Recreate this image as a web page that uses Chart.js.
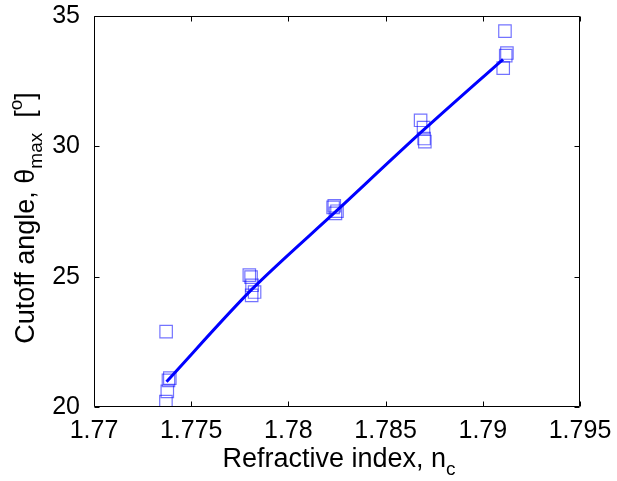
<!DOCTYPE html>
<html><head><meta charset="utf-8">
<script src="https://cdn.jsdelivr.net/npm/chart.js@4/dist/chart.umd.min.js"></script>
<style>html,body{margin:0;padding:0;background:#fff}canvas{display:block}</style>
</head><body>
<canvas id="c" width="617" height="481"></canvas>
<script>
// Measured samples (refractive index vs cutoff angle)
const pointX = [1.77371, 1.77390, 1.77383, 1.77377, 1.77370,
                1.77799, 1.77808, 1.77813, 1.77826, 1.77811,
                1.78236, 1.78250, 1.78242, 1.78230,
                1.78680, 1.78695, 1.78698, 1.78702,
                1.79114, 1.79124, 1.79118, 1.79105];
const pointY = [22.89, 21.11, 21.02, 20.60, 20.21,
                25.06, 24.98, 24.67, 24.41, 24.28,
                27.72, 27.51, 27.43, 27.66,
                31.00, 30.72, 30.30, 30.18,
                34.42, 33.58, 33.48, 33.00];
// Fitted curve
const fitX = [1.77373, 1.77813, 1.78250, 1.78687, 1.79104];
const fitY = [20.97, 24.52, 27.54, 30.57, 33.34];
// Axes
const xTicks = [1.77, 1.775, 1.78, 1.785, 1.79, 1.795];
const xTickLabels = ['1.77', '1.775', '1.78', '1.785', '1.79', '1.795'];
const yTicks = [20, 25, 30, 35];
const yTickLabels = ['20', '25', '30', '35'];
const xTitleParts = [['Refractive index, n', 'n'], ['c', 'sub']];
const yTitleParts = [['Cutoff angle, \u03B8', 'n'], ['max', 'sub'], ['  [', 'n'], ['o', 'sup'], [']', 'n']];

const FAM = "'Liberation Sans', Arial, Helvetica, sans-serif";

function drawRich(ctx, parts, size, subSize) {
  const fontFor = k => (k === 'n' ? size : subSize) + 'px ' + FAM;
  let total = 0;
  const widths = parts.map(([t, k]) => { ctx.font = fontFor(k); const w = ctx.measureText(t).width; total += w; return w; });
  let x = -total / 2;
  ctx.textBaseline = 'alphabetic';
  ctx.textAlign = 'left';
  parts.forEach(([t, k], i) => {
    ctx.font = fontFor(k);
    const dy = k === 'sub' ? 8 : (k === 'sup' ? -12 : 0);
    ctx.fillText(t, x, dy);
    x += widths[i];
  });
}

const framePlugin = {
  id: 'frame',
  afterDraw(chart) {
    const {ctx, chartArea: a, scales} = chart;
    ctx.save();
    ctx.strokeStyle = '#000';
    ctx.lineWidth = 1;
    const L = Math.round(a.left) + 0.5, R = Math.round(a.right) - 0.5;
    const T = Math.round(a.top) + 0.5, B = Math.round(a.bottom) - 0.5;
    ctx.beginPath();
    ctx.rect(L, T, R - L, B - T);
    const len = 5;
    xTicks.forEach(v => {
      const px = Math.round(scales.x.getPixelForValue(v)) + 0.5;
      ctx.moveTo(px, B); ctx.lineTo(px, B - len);
      ctx.moveTo(px, T); ctx.lineTo(px, T + len);
    });
    yTicks.forEach(v => {
      const py = Math.round(scales.y.getPixelForValue(v)) + 0.5;
      ctx.moveTo(L, py); ctx.lineTo(L + len, py);
      ctx.moveTo(R, py); ctx.lineTo(R - len, py);
    });
    ctx.stroke();
    // axis titles
    ctx.fillStyle = '#000';
    ctx.save();
    ctx.translate((a.left + a.right) / 2 + 2, 467);
    drawRich(ctx, xTitleParts, 27, 19);
    ctx.restore();
    ctx.save();
    ctx.translate(34, 218);
    ctx.rotate(-Math.PI / 2);
    drawRich(ctx, yTitleParts, 27, 19);
    ctx.restore();
    ctx.restore();
  }
};

new Chart(document.getElementById('c'), {
  type: 'scatter',
  data: {
    datasets: [
      {
        label: 'Fit',
        data: fitX.map((x, i) => ({x, y: fitY[i]})),
        showLine: true,
        borderColor: '#0000ff',
        borderWidth: 3,
        pointRadius: 0,
        tension: 0.3,
        fill: false
      },
      {
        label: 'Measured',
        data: pointX.map((x, i) => ({x, y: pointY[i]})),
        pointStyle: 'rect',
        pointRadius: 8.8,
        pointBorderWidth: 1.2,
        borderColor: 'rgba(0,0,255,0.55)',
        backgroundColor: 'rgba(0,0,0,0)',
        showLine: false
      }
    ]
  },
  options: {
    responsive: false,
    animation: false,
    devicePixelRatio: 1,
    layout: {padding: {top: 15, right: 37, left: 0, bottom: 0}},
    plugins: {legend: {display: false}, tooltip: {enabled: false}},
    scales: {
      x: {
        type: 'linear', min: 1.77, max: 1.795, position: 'bottom',
        grid: {display: false}, border: {display: false},
        afterBuildTicks: s => { s.ticks = xTicks.map(v => ({value: v})); },
        afterFit: s => { s.height = 74; },
        ticks: {font: {family: FAM, size: 25, lineHeight: 1.0}, color: '#000', padding: 4, maxRotation: 0, autoSkip: false,
                callback: (v, i) => xTickLabels[i]}
      },
      y: {
        type: 'linear', min: 20, max: 35, position: 'left',
        grid: {display: false}, border: {display: false},
        afterBuildTicks: s => { s.ticks = yTicks.map(v => ({value: v})); },
        afterFit: s => { s.width = 94; },
        ticks: {font: {family: FAM, size: 25, lineHeight: 0.8}, color: '#000', padding: 6, autoSkip: false,
                callback: (v, i) => yTickLabels[i]}
      }
    }
  },
  plugins: [framePlugin]
});
</script>
</body></html>
